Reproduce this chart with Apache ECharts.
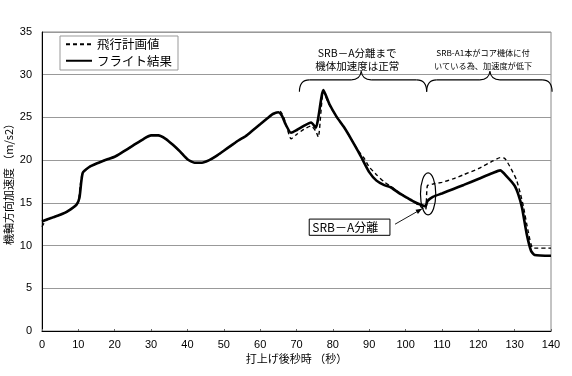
<!DOCTYPE html>
<html>
<head>
<meta charset="utf-8">
<script src="https://cdn.jsdelivr.net/npm/echarts@6/dist/echarts.min.js"></script>
<style>html,body{margin:0;padding:0;background:#fff;}#c{width:572px;height:376px;}</style>
</head>
<body>
<div id="c"></div>
<script>
// ---- data ----
const xTicks = [0, 10, 20, 30, 40, 50, 60, 70, 80, 90, 100, 110, 120, 130, 140];
const yTicks = [0, 5, 10, 15, 20, 25, 30, 35];

const flightTimes  = [0, 1, 3, 5, 7, 9.5, 10.3, 11.2, 13, 15, 18, 20, 22, 25, 28, 30, 32, 34, 36, 38, 40, 42, 44, 46, 48, 50, 52, 54, 56, 58, 60, 62, 63.5, 65, 66, 67, 68.5, 70, 72, 74, 75.3, 77.4, 79, 81, 83, 85, 87, 88, 90, 92, 94, 96, 98, 100, 102, 104, 105.5, 106, 107.5, 110, 113, 116, 120, 124, 126, 128, 130, 131, 132, 133.3, 134.5, 135.5, 140];
const flightValues = [12.8, 13.0, 13.3, 13.6, 14.0, 14.8, 15.6, 18.5, 19.2, 19.6, 20.1, 20.4, 20.9, 21.7, 22.5, 22.9, 22.9, 22.5, 21.8, 21.0, 20.1, 19.7, 19.7, 20.0, 20.5, 21.1, 21.7, 22.3, 22.8, 23.5, 24.2, 24.9, 25.4, 25.6, 25.2, 24.2, 23.2, 23.5, 24.0, 24.4, 23.8, 28.2, 26.6, 25.1, 23.9, 22.5, 21.0, 20.2, 18.6, 17.6, 17.1, 16.8, 16.2, 15.7, 15.2, 14.8, 14.6, 15.2, 15.7, 16.1, 16.6, 17.1, 17.8, 18.5, 18.8, 18.0, 17.0, 16.0, 14.5, 11.4, 9.4, 8.9, 8.8];

const planTimes  = [0, 1, 3, 5, 7, 9.8, 10.5, 11.1, 13, 15, 18, 20, 22, 25, 28, 30, 32, 34, 36, 38, 40, 42, 44, 46, 48, 50, 52, 54, 56, 58, 60, 62, 63.5, 65.5, 66.5, 67.5, 68.5, 70, 72, 74, 75.3, 76, 77.4, 79, 81, 83, 85, 87, 88.5, 90, 92, 94, 96, 98, 100, 102, 104, 105.5, 106, 107.5, 110, 113, 116, 120, 124, 126, 127.3, 129, 130.5, 131.5, 132.4, 133.8, 135.1, 140];
const planValues = [12.2, 12.9, 13.3, 13.6, 14.0, 14.9, 17.0, 18.4, 19.2, 19.6, 20.1, 20.4, 20.9, 21.7, 22.5, 22.9, 22.9, 22.5, 21.8, 21.0, 20.1, 19.7, 19.7, 20.0, 20.5, 21.1, 21.7, 22.3, 22.8, 23.5, 24.2, 24.9, 25.4, 25.7, 25.0, 23.6, 22.5, 23.0, 23.6, 24.0, 23.4, 22.7, 28.0, 26.5, 25.1, 23.9, 22.5, 21.1, 20.3, 19.2, 18.3, 17.5, 16.9, 16.3, 15.7, 15.2, 14.6, 14.2, 17.0, 17.2, 17.4, 17.8, 18.3, 19.0, 19.9, 20.3, 20.2, 19.0, 17.7, 16.2, 14.6, 11.5, 9.7, 9.7];

const seriesNames = ['飛行計画値', 'フライト結果'];
const xAxisName = '打上げ後秒時 （秒）';
const yAxisName = '機軸方向加速度 （m/s2）';
const note1 = ['SRB－A分離まで', '機体加速度は正常'];
const note2 = ['SRB-A1本がコア機体に付', 'いている為、加速度が低下'];
const sepLabel = 'SRB－A分離';

const zip = (a, b) => a.map((t, i) => [t, b[i]]);
const FONT = '"Noto Sans CJK JP", "Liberation Sans", sans-serif';

const chart = echarts.init(document.getElementById('c'));
chart.setOption({
  animation: false,
  backgroundColor: '#fff',
  grid: { left: 42, right: 21, top: 32, bottom: 45, containLabel: false, outerBoundsMode: 'none',
          show: true, borderColor: '#888', borderWidth: 1 },
  legend: {
    orient: 'vertical', left: 60, top: 36,
    padding: [2, 6, 3, 5], itemGap: 4, itemWidth: 26, itemHeight: 14,
    borderColor: '#999', borderWidth: 1, backgroundColor: '#fff',
    itemStyle: { opacity: 0 },
    textStyle: { fontFamily: FONT, fontSize: 12.5, color: '#000' },
    data: seriesNames
  },
  xAxis: {
    type: 'value', min: 0, max: 140, interval: 10,
    name: xAxisName, nameLocation: 'middle', nameGap: 22, nameMoveOverlap: false,
    nameTextStyle: { fontFamily: FONT, fontSize: 11, color: '#000' },
    axisLine: { lineStyle: { color: '#000', width: 1 } },
    axisTick: { show: true, inside: true, length: 2, lineStyle: { color: '#666' } },
    axisLabel: { fontFamily: '"Liberation Sans", Arial, sans-serif', fontSize: 11, color: '#000', margin: 8,
      formatter: v => xTicks.includes(v) ? String(v) : '' },
    splitLine: { show: false }
  },
  yAxis: {
    type: 'value', min: 0, max: 35, interval: 5,
    name: yAxisName, nameLocation: 'middle', nameGap: 28, nameRotate: 90, nameMoveOverlap: false,
    nameTextStyle: { fontFamily: FONT, fontSize: 11, color: '#000' },
    axisLine: { show: true, lineStyle: { color: '#000', width: 1 } },
    axisTick: { show: false },
    axisLabel: { fontFamily: '"Liberation Sans", Arial, sans-serif', fontSize: 11, color: '#000', margin: 10,
      formatter: v => yTicks.includes(v) ? String(v) : '' },
    splitLine: { show: true, lineStyle: { color: '#999', width: 1 } }
  },
  series: [
    { name: seriesNames[0], type: 'line', data: zip(planTimes, planValues), symbol: 'none', smooth: 0.2,
      lineStyle: { color: '#000', width: 1.4, type: [4, 3] }, itemStyle: { color: '#000' }, z: 3 },
    { name: seriesNames[1], type: 'line', data: zip(flightTimes, flightValues), symbol: 'none', smooth: 0.2,
      lineStyle: { color: '#000', width: 2.6 }, itemStyle: { color: '#000' }, z: 2 }
  ]
});

// ---- annotations positioned through the chart's own scales ----
const P = (t, v) => chart.convertToPixel({ gridIndex: 0 }, [t, v]);
function brace(t0, tTip, t1, vEnd, vMid, vTip) {
  const a = P(t0, vEnd), m0 = P(t0, vMid), tip = P(tTip, vTip), b = P(t1, vEnd);
  const y = m0[1], r = 10, rt = 10;
  const st = { stroke: '#000', lineWidth: 1.1, fill: null };
  return [
    { type: 'bezierCurve', shape: { x1: a[0], y1: a[1], cpx1: a[0], cpy1: y, x2: a[0] + r, y2: y }, style: st },
    { type: 'line', shape: { x1: a[0] + r, y1: y, x2: tip[0] - rt, y2: y }, style: st },
    { type: 'bezierCurve', shape: { x1: tip[0] - rt, y1: y, cpx1: tip[0] - 1, cpy1: y, x2: tip[0], y2: tip[1] }, style: st },
    { type: 'bezierCurve', shape: { x1: tip[0], y1: tip[1], cpx1: tip[0] + 1, cpy1: y, x2: tip[0] + rt, y2: y }, style: st },
    { type: 'line', shape: { x1: tip[0] + rt, y1: y, x2: b[0] - r, y2: y }, style: st },
    { type: 'bezierCurve', shape: { x1: b[0] - r, y1: y, cpx1: b[0], cpy1: y, x2: b[0], y2: b[1] }, style: st }
  ];
}
const g = [];
g.push(...brace(70.8, 87.8, 105.8, 28.0, 29.4, 30.4));
g.push(...brace(105.8, 123.2, 140.3, 28.0, 29.4, 30.4));

const n1 = P(86.7, 33.3);
g.push({ type: 'text', x: n1[0], y: n1[1], style: { text: note1.join('\n'), font: '10.5px ' + FONT, fill: '#000', align: 'center', verticalAlign: 'top', lineHeight: 13 } });
const n2 = P(121.3, 33.3);
g.push({ type: 'text', x: n2[0], y: n2[1], style: { text: note2.join('\n'), font: '8.2px ' + FONT, fill: '#000', align: 'center', verticalAlign: 'top', lineHeight: 13 } });

// ellipse around separation
const ec = P(106.2, 16.05), ey = P(106.2, 18.5), ex = P(108.3, 16.05);
g.push({ type: 'ellipse', shape: { cx: ec[0], cy: ec[1], rx: ex[0] - ec[0], ry: ec[1] - ey[1] }, style: { stroke: '#000', lineWidth: 1.2, fill: null }, z: 10 });

// label box
const bx0 = P(73.5, 13.1), bx1 = P(95.7, 11.2);
g.push({ type: 'rect', shape: { x: bx0[0], y: bx0[1], width: bx1[0] - bx0[0], height: bx1[1] - bx0[1] }, style: { stroke: '#000', lineWidth: 1, fill: '#fff' }, z: 10 });
g.push({ type: 'text', x: bx0[0] + 3, y: (bx0[1] + bx1[1]) / 2, style: { text: sepLabel, font: '12px ' + FONT, fill: '#000', align: 'left', verticalAlign: 'middle' }, z: 11 });

// arrow
const a0 = P(97.1, 12.5), a1 = P(104.5, 14.3);
g.push({ type: 'line', shape: { x1: a0[0], y1: a0[1], x2: a1[0], y2: a1[1] }, style: { stroke: '#000', lineWidth: 0.9 }, z: 10 });
const ang = Math.atan2(a1[1] - a0[1], a1[0] - a0[0]);
const L = 6, W = 2.5;
const bxp = a1[0] - L * Math.cos(ang), byp = a1[1] - L * Math.sin(ang);
g.push({ type: 'polygon', shape: { points: [[a1[0], a1[1]], [bxp + W * Math.sin(ang), byp - W * Math.cos(ang)], [bxp - W * Math.sin(ang), byp + W * Math.cos(ang)]] }, style: { fill: '#000' }, z: 10 });

chart.setOption({ graphic: g });
</script>
</body>
</html>
